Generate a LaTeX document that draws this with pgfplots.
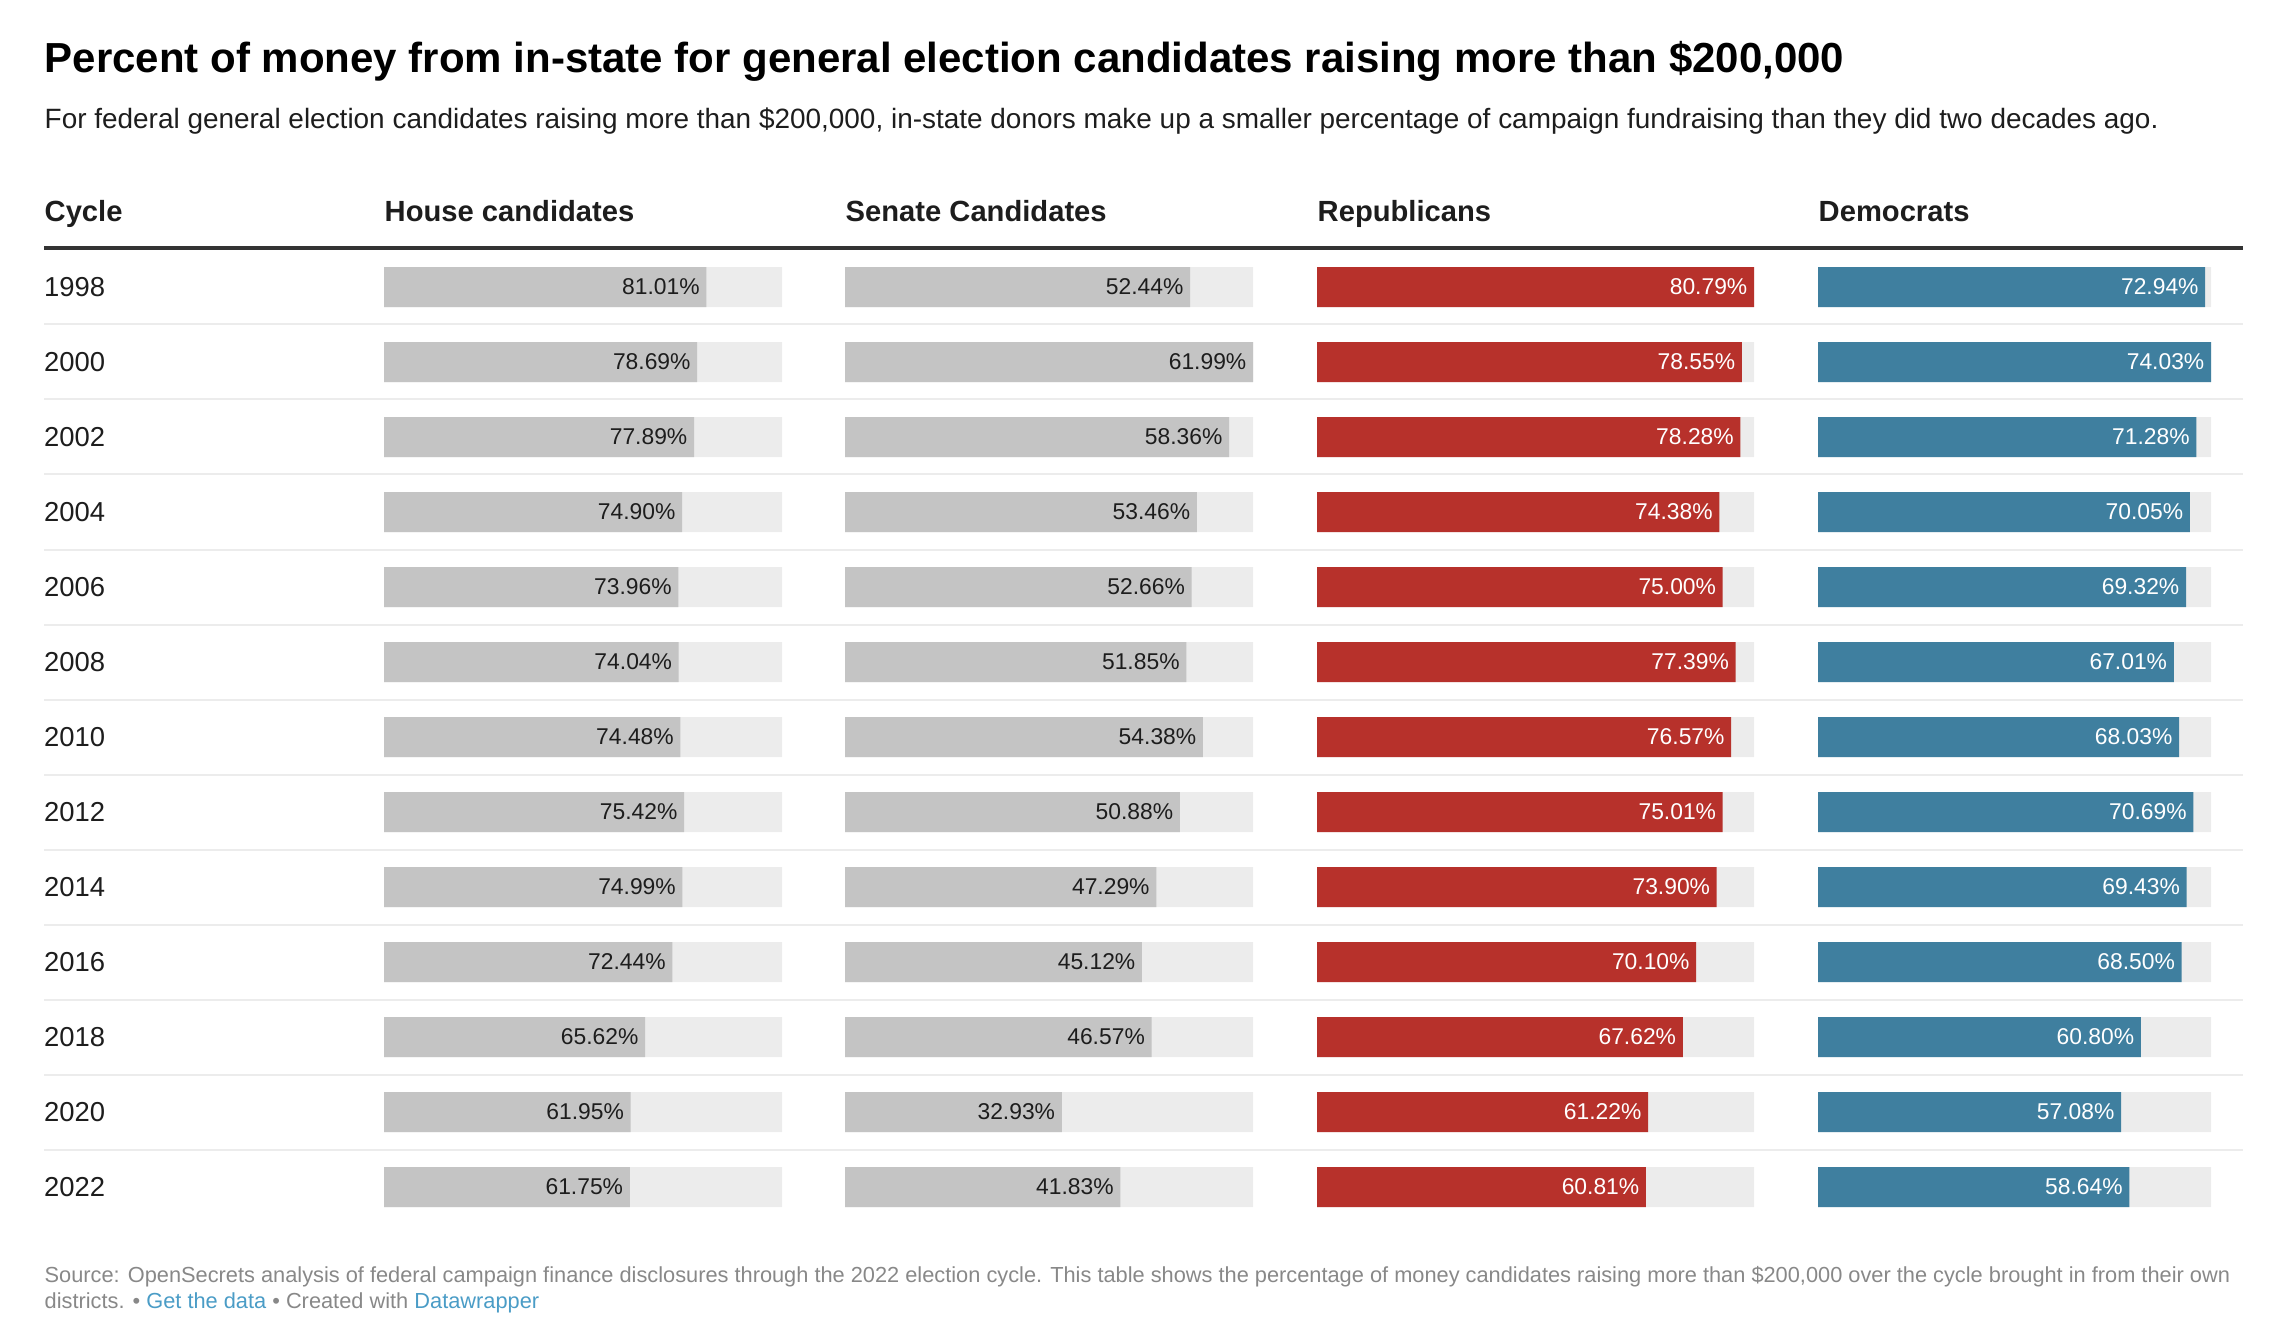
\documentclass[border=0pt]{standalone}
\usepackage{fontspec}
\setmainfont{Liberation Sans}
\usepackage{pgfplots}
\pgfplotsset{compat=1.18}
\usepackage{pgfplotstable}

\definecolor{bargrey}{HTML}{C4C4C4}
\definecolor{bgbar}{HTML}{ECECEC}
\definecolor{repred}{HTML}{B7312B}
\definecolor{demblue}{HTML}{3F7F9F}
\definecolor{rulec}{HTML}{333333}
\definecolor{sepc}{HTML}{ECECEC}
\definecolor{foot}{HTML}{888888}
\definecolor{link}{HTML}{4A9CC6}
\definecolor{ink}{HTML}{1D1D1D}

% in-state share of money, percent
\pgfplotstableread{
row house senate rep dem
0 81.01 52.44 80.79 72.94
1 78.69 61.99 78.55 74.03
2 77.89 58.36 78.28 71.28
3 74.90 53.46 74.38 70.05
4 73.96 52.66 75.00 69.32
5 74.04 51.85 77.39 67.01
6 74.48 54.38 76.57 68.03
7 75.42 50.88 75.01 70.69
8 74.99 47.29 73.90 69.43
9 72.44 45.12 70.10 68.50
10 65.62 46.57 67.62 60.80
11 61.95 32.93 61.22 57.08
12 61.75 41.83 60.81 58.64
}\cycles

\pgfplotsset{
  col/.style={
    scale only axis, anchor=north west,
    height=97.5mm, xmin=0, ymin=-0.5, ymax=12.5, y dir=reverse,
    axis line style={draw=none}, tick style={draw=none},
    xtick=\empty, ytick=\empty, clip=false,
    xbar, bar width=4mm, bar shift=0pt,
  },
  bg/.style={fill=bgbar, draw=none},
  val/.style 2 args={fill=#1, draw=none,
    point meta=x,
    nodes near coords={\pgfmathprintnumber[fixed,fixed zerofill,precision=2,assume math mode=true]{\pgfplotspointmeta}\%},
    nodes near coords align={anchor=east},
    every node near coord/.append style={font=\fontsize{6.5}{7}\selectfont, text=#2, inner sep=0pt, xshift=-0.6mm}},
}

\begin{document}
\begin{tikzpicture}
\path[use as bounding box] (0,0) rectangle (227.4mm,-134mm);

\begin{scope}[x=0.1mm, y=-0.1mm]
  \node[anchor=base west, inner sep=0pt, font=\fontsize{11.95}{14}\selectfont\bfseries, text=black] at (44,73)
    {Percent of money from in-state for general election candidates raising more than \$200,000};
  \node[anchor=base west, inner sep=0pt, font=\fontsize{7.95}{9}\selectfont, text=ink] at (44,129)
    {For federal general election candidates raising more than \$200,000, in-state donors make up a smaller percentage of campaign fundraising than they did two decades ago.};
  \begin{scope}[every node/.style={anchor=base west, inner sep=0pt, font=\fontsize{8.3}{10}\selectfont\bfseries, text=ink}]
    \node at (44,222) {Cycle};
    \node at (384,222) {House candidates};
    \node at (845,222) {Senate Candidates};
    \node at (1317,222) {Republicans};
    \node at (1818,222) {Democrats};
  \end{scope}
  \draw[rulec, line width=0.4mm] (44,248) -- (2243,248);
  \foreach \i in {0,...,11}
    \draw[sepc, line width=0.2mm] (44,{324.5+75*\i}) -- (2243,{324.5+75*\i});
  \node[anchor=base west, inner sep=0pt, font=\fontsize{6.2}{7}\selectfont, text=foot] at (44,1282)
    {Source: OpenSecrets analysis of federal campaign finance disclosures through the 2022 election cycle. This table shows the percentage of money candidates raising more than \$200,000 over the cycle brought in from their own};
  \node[anchor=base west, inner sep=0pt, font=\fontsize{6.2}{7}\selectfont, text=foot] at (44,1308)
    {districts. • \textcolor{link}{Get the data} • Created with \textcolor{link}{Datawrapper}};
\end{scope}

% House
\begin{axis}[col, at={(38.4mm,-24.95mm)}, width=39.8mm, xmax=100,
  ytick={0,...,12},
  yticklabels={1998,2000,2002,2004,2006,2008,2010,2012,2014,2016,2018,2020,2022},
  yticklabel style={anchor=west, inner sep=0pt, xshift=-32.55mm, font=\fontsize{7.8}{9}\selectfont, text=ink}]
  \addplot[bg] table[x expr=100, y=row]{\cycles};
  \addplot[val={bargrey}{ink}] table[x=house, y=row]{\cycles};
\end{axis}

% Senate
\begin{axis}[col, at={(84.5mm,-24.95mm)}, width=40.8mm, xmax=61.99]
  \addplot[bg] table[x expr=61.99, y=row]{\cycles};
  \addplot[val={bargrey}{ink}] table[x=senate, y=row]{\cycles};
\end{axis}

% Republicans
\begin{axis}[col, at={(131.7mm,-24.95mm)}, width=43.7mm, xmax=80.79]
  \addplot[bg] table[x expr=80.79, y=row]{\cycles};
  \addplot[val={repred}{white}] table[x=rep, y=row]{\cycles};
\end{axis}

% Democrats
\begin{axis}[col, at={(181.8mm,-24.95mm)}, width=39.3mm, xmax=74.03]
  \addplot[bg] table[x expr=74.03, y=row]{\cycles};
  \addplot[val={demblue}{white}] table[x=dem, y=row]{\cycles};
\end{axis}
\end{tikzpicture}
\end{document}
